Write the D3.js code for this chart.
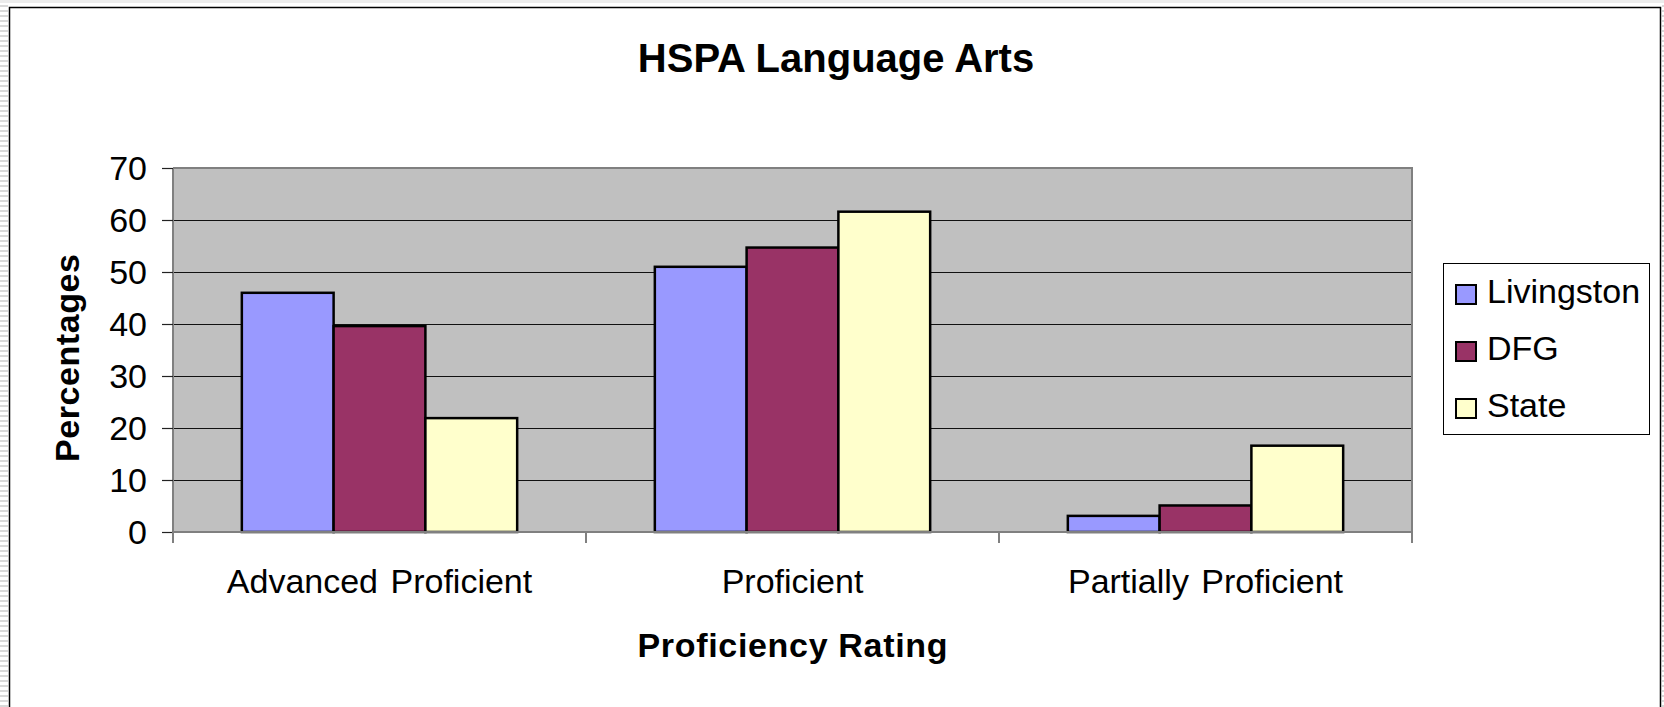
<!DOCTYPE html>
<html><head><meta charset="utf-8">
<script src="https://cdn.jsdelivr.net/npm/d3@7"></script>
<style>
html,body{margin:0;padding:0;background:#fff;}
svg{display:block;}
text{font-family:"Liberation Sans",Arial,sans-serif;fill:#000;}
</style></head>
<body>
<svg id="chart" width="1664" height="707"></svg>
<script>
const categories = ["Advanced Proficient", "Proficient", "Partially Proficient"];
const seriesNames = ["Livingston", "DFG", "State"];
const livingston = [46, 51, 3.1];
const dfg = [39.6, 54.7, 5.1];
const state = [21.9, 61.6, 16.6];
const yTicks = [0, 10, 20, 30, 40, 50, 60, 70];
const colors = ["#9999FF", "#993366", "#FFFFCC"];
const title = "HSPA Language Arts";
const xTitle = "Proficiency Rating";
const yTitle = "Percentages";

const seriesValues = [livingston, dfg, state];
const svg = d3.select("#chart");

// side stripes pattern
const defs = svg.append("defs");
const pat = defs.append("pattern").attr("id","stripes").attr("width",8).attr("height",5).attr("patternUnits","userSpaceOnUse");
pat.append("rect").attr("width",8).attr("height",5).attr("fill","#fff");
pat.append("rect").attr("width",8).attr("height",2).attr("fill","#d9d9d9");
svg.append("rect").attr("x",0).attr("y",0).attr("width",8).attr("height",707).attr("fill","url(#stripes)");
svg.append("rect").attr("x",1662).attr("y",0).attr("width",2).attr("height",707).attr("fill","url(#stripes)");
svg.append("rect").attr("x",0).attr("y",0).attr("width",1664).attr("height",3).attr("fill","#ececec");

// outer chart border
svg.append("path").attr("d","M9.5,720 V7.5 H1660.5 V720").attr("fill","none").attr("stroke","#000").attr("stroke-width",1.5);

const L = 173, R = 1412, T = 168, B = 532;
const x0 = d3.scaleBand().domain(categories).range([L, R]).paddingInner(0).paddingOuter(0);
const x1 = d3.scaleBand().domain(seriesNames).range([0, x0.bandwidth()]).paddingInner(0).paddingOuter(0.75);
const y = d3.scaleLinear().domain([0, 70]).range([B, T]);

// plot area
svg.append("rect").attr("x",L).attr("y",T).attr("width",R-L).attr("height",B-T).attr("fill","#C0C0C0");

// gridlines
svg.append("g").selectAll("line").data(yTicks.filter(d=>d>0 && d<70)).join("line")
  .attr("x1",L).attr("x2",R).attr("y1",d=>y(d)+0.5).attr("y2",d=>y(d)+0.5)
  .attr("stroke","#111").attr("stroke-width",1.2);

// plot border top/right
svg.append("path").attr("d",`M${L},${T} H${R} V${B}`).attr("fill","none").attr("stroke","#808080").attr("stroke-width",2);

// bars
const groups = svg.append("g").selectAll("g").data(categories).join("g")
  .attr("transform", d => `translate(${x0(d)},0)`);
groups.selectAll("rect").data((c,i) => seriesNames.map((s,j)=>({s, v: seriesValues[j][i], j})))
  .join("rect")
  .attr("x", d => x1(d.s)).attr("width", x1.bandwidth())
  .attr("y", d => y(d.v)).attr("height", d => B - y(d.v))
  .attr("fill", d => colors[d.j]).attr("stroke","#000").attr("stroke-width",2.5);

// y axis
const yAxis = d3.axisLeft(y).tickValues(yTicks).tickSize(11).tickPadding(15);
const gy = svg.append("g").attr("transform",`translate(${L},0)`).call(yAxis);
gy.select(".domain").attr("stroke","#808080").attr("stroke-width",2).attr("d",`M0,${T}V${B+11}`);
gy.selectAll(".tick line").attr("stroke","#222").attr("stroke-width",1.2);
gy.selectAll(".tick text").attr("font-size",34).attr("font-family","Liberation Sans, Arial, sans-serif").attr("fill","#000").attr("dy","0.35em");

// x axis
const xAxis = d3.axisBottom(x0).tickSize(0).tickPadding(0);
const gx = svg.append("g").attr("transform",`translate(0,${B})`).call(xAxis);
gx.select(".domain").attr("stroke","#808080").attr("stroke-width",2).attr("d",`M${L},0H${R}`);
gx.selectAll(".tick text").attr("font-size",34).attr("font-family","Liberation Sans, Arial, sans-serif").attr("fill","#000").attr("y",61).attr("dy",0)
  .attr("word-spacing", 3);
// category boundary ticks
const bounds = categories.map(c => x0(c)).concat([x0(categories[categories.length-1]) + x0.bandwidth()]);
gx.append("g").selectAll("line").data(bounds).join("line")
  .attr("x1",d=>d).attr("x2",d=>d).attr("y1",0).attr("y2",11).attr("stroke","#808080").attr("stroke-width",2);

// titles
svg.append("text").attr("x",836).attr("y",72).attr("text-anchor","middle").attr("font-size",40).attr("font-weight","bold").text(title);
svg.append("text").attr("x",(L+R)/2).attr("y",657).attr("text-anchor","middle").attr("font-size",34).attr("font-weight","bold")
  .attr("textLength",310).attr("lengthAdjust","spacing").text(xTitle);
svg.append("text").attr("transform",`translate(79,358) rotate(-90)`).attr("text-anchor","middle").attr("font-size",34).attr("font-weight","bold")
  .attr("textLength",208).attr("lengthAdjust","spacing").text(yTitle);

// legend
const lg = svg.append("g");
lg.append("rect").attr("x",1443.5).attr("y",263.5).attr("width",206).attr("height",171).attr("fill","#fff").attr("stroke","#000").attr("stroke-width",1);
const items = lg.selectAll("g").data(seriesNames).join("g")
  .attr("transform",(d,i)=>`translate(0,${i*57})`);
items.append("rect").attr("x",1456).attr("y",285).attr("width",20).attr("height",19)
  .attr("fill",(d,i)=>colors[i]).attr("stroke","#000").attr("stroke-width",2);
items.append("text").attr("x",1487).attr("y",303).attr("font-size",34).text(d=>d);
</script>
</body></html>
